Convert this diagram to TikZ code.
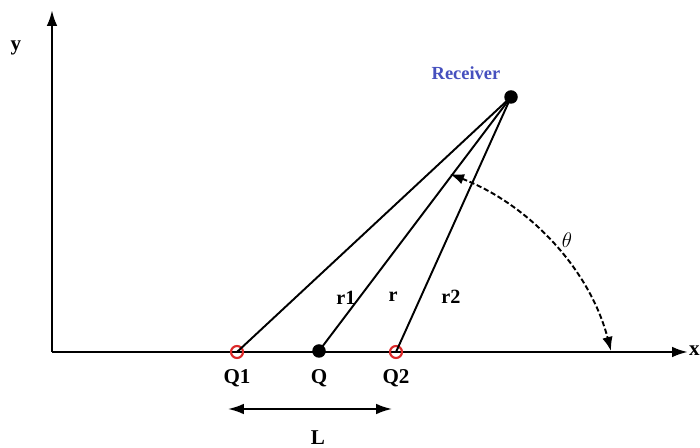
\documentclass[tikz,border=0pt]{standalone}
\usepackage{fontspec}
\setmainfont{Liberation Serif}
\usetikzlibrary{arrows.meta}
\definecolor{recblue}{RGB}{70,80,190}
\definecolor{qred}{RGB}{220,40,40}
\begin{document}
\begin{tikzpicture}[x=0.02cm,y=-0.02cm,
  axis/.style={line width=1.4pt,-{Latex[length=9pt,width=6pt]}},
  ray/.style={line width=1.1pt},
  bigdot/.style={circle,fill=black,inner sep=0pt,minimum size=0.27cm},
  reddot/.style={circle,draw=qred,line width=1.2pt,inner sep=0pt,minimum size=0.24cm},
  lbl/.style={font=\bfseries\fontsize{12}{14}\selectfont,inner sep=1pt},
  rlbl/.style={font=\bfseries\fontsize{11.5}{13}\selectfont,inner sep=1pt}]
\useasboundingbox (0,0) rectangle (700,448);
% axes
\coordinate (O) at (52,352);
\coordinate (yend) at (52,10);
\coordinate (xend) at (688,352);
\draw[axis] (O) -- (yend);
\draw[axis] (O) -- (xend);
\node[lbl,anchor=center] (ylab) at (16,48) {y};
\node[lbl,anchor=east,inner sep=0pt] (xlab) at (700,351) {x};
% points
\node[bigdot] (R) at (511,97) {};
\node[reddot] (Q1) at (237,352) {};
\node[bigdot] (Q) at (319,351) {};
\node[reddot] (Q2) at (396,352) {};
% rays
\draw[ray] (Q1.center) -- (R.center);
\draw[ray] (Q.center) -- (R.center);
\draw[ray] (Q2.center) -- (R.center);
% labels
\node[font=\bfseries\fontsize{10.5}{12}\selectfont,text=recblue] (Rlab) at (466,73) {Receiver};
\node[lbl] (Q1lab) at (237,378) {Q1};
\node[lbl] (Qlab) at (319,378) {Q};
\node[lbl] (Q2lab) at (396,378) {Q2};
\node[rlbl] (r1lab) at (346,298) {r1};
\node[rlbl] (rlab) at (393,297) {r};
\node[rlbl] (r2lab) at (451,297) {r2};
\node[font=\fontsize{13}{15}\selectfont] (th) at (567,240) {$\theta$};
% L arrow
\coordinate (La) at (228,409);
\coordinate (Lb) at (392,409);
\draw[line width=1.1pt,{Latex[length=9pt,width=6pt]}-{Latex[length=9pt,width=6pt]}] (La) -- (Lb);
\node[lbl] (Llab) at (318,438) {L};
% theta arc
\coordinate (A1) at (450,174);
\coordinate (A2) at (611,351);
\draw[line width=1.1pt,dash pattern=on 3pt off 1.5pt,{Latex[length=8pt,width=6pt]}-{Latex[length=8pt,width=6pt]}] (A1) .. controls (530,205) and (590,270) .. (A2);
\end{tikzpicture}
\end{document}
